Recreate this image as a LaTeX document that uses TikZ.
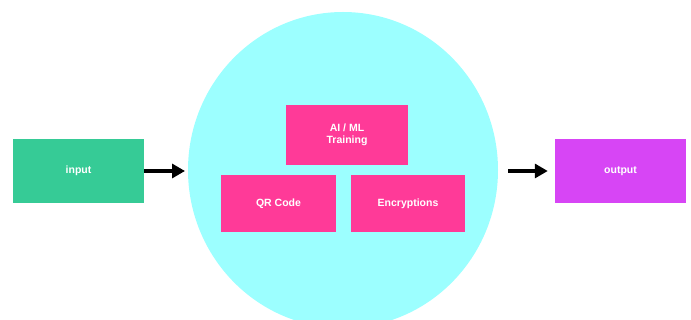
\documentclass[tikz,border=0pt]{standalone}
\usepackage{fontspec}
\setmainfont{Liberation Sans}
\usetikzlibrary{arrows.meta}
\definecolor{ingreen}{HTML}{36CB96}
\definecolor{boxpink}{HTML}{FF3A98}
\definecolor{outmag}{HTML}{D745F5}
\definecolor{bgcyan}{HTML}{9CFFFF}
\tikzset{
  blk/.style={draw=none, inner sep=0pt, text=white, font=\fontsize{10.5}{12.5}\selectfont\bfseries, align=center},
  flowarrow/.style={-{Triangle[length=13pt,width=14pt]}, line width=3.2pt, black}
}
\begin{document}
\begin{tikzpicture}[x=1pt,y=-1pt]
\useasboundingbox (0,0) rectangle (691,320);
\clip (0,0) rectangle (691,320);
\fill[bgcyan] (343,170) ellipse [x radius=155, y radius=158];
\node[blk, fill=ingreen, minimum width=131pt, minimum height=64pt] (in) at (78.5,171) {input};
\node[blk, fill=outmag, minimum width=131pt, minimum height=64pt] (out) at (620.5,171) {output};
\node[blk, fill=boxpink, minimum width=122pt, minimum height=60pt] (ai) at (347,135) {AI / ML\\Training};
\node[blk, fill=boxpink, minimum width=115pt, minimum height=57pt] (qr) at (278.5,203.5) {QR Code};
\node[blk, fill=boxpink, minimum width=114pt, minimum height=57pt] (enc) at (408,203.5) {Encryptions};
\coordinate (c1) at (185,171);
\coordinate (c2) at (508,171);
\draw[flowarrow] (in.east) -- (c1);
\draw[flowarrow] (c2) -- ([xshift=-7pt]out.west);
\end{tikzpicture}
\end{document}
